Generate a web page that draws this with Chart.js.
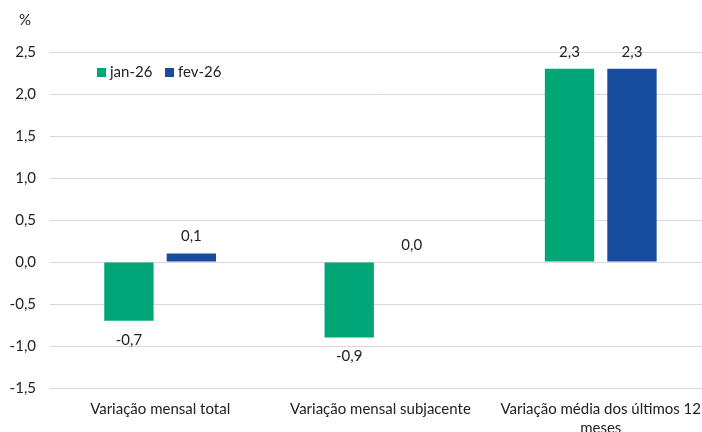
<!DOCTYPE html>
<html>
<head>
<meta charset="utf-8">
<script src="https://cdn.jsdelivr.net/npm/chart.js@4"></script>
<style>
	html, body { margin: 0; padding: 0; background: #fff; overflow: hidden; }
	#wrap { width: 712px; height: 432px; }
</style>
</head>
<body>
<div id="wrap"><canvas id="chart" width="712" height="432"></canvas></div>
<script>
// Categories and series
const categories = ['Variação mensal total', 'Variação mensal subjacente', ['Variação média dos últimos 12', 'meses']];
const seriesNames = ['jan-26', 'fev-26'];
const jan26 = [-0.7, -0.9, 2.3];
const fev26 = [0.1, 0.0, 2.3];
const yTicks = [2.5, 2.0, 1.5, 1.0, 0.5, 0.0, -0.5, -1.0, -1.5];

const green = '#00A676';
const blue = '#174C9E';
const fontFamily = 'Lato, "Open Sans", sans-serif';
const fmt = v => v.toFixed(1).replace('.', ',');

// Value labels above / below each bar
const valueLabels = {
	id: 'valueLabels',
	afterDatasetsDraw(chart) {
		const ctx = chart.ctx;
		ctx.save();
		ctx.font = '15px ' + fontFamily;
		ctx.fillStyle = '#222';
		ctx.textAlign = 'center';
		ctx.textBaseline = 'middle';
		chart.data.datasets.forEach((ds, i) => {
			chart.getDatasetMeta(i).data.forEach((bar, j) => {
				const v = ds.data[j];
				const y = v < 0 ? bar.y + 19 : bar.y - 17;
				ctx.fillText(fmt(v), bar.x, y);
			});
		});
		ctx.restore();
	}
};

// Legend inside the plot + "%" unit label
const extras = {
	id: 'extras',
	afterDraw(chart) {
		const ctx = chart.ctx;
		ctx.save();
		ctx.font = '15px ' + fontFamily;
		ctx.fillStyle = '#222';
		ctx.textBaseline = 'middle';
		ctx.textAlign = 'left';
		ctx.fillText('%', 19, 20);
		const items = [[97, green, seriesNames[0]], [165, blue, seriesNames[1]]];
		items.forEach(([x, c, t]) => {
			ctx.fillStyle = c;
			ctx.fillRect(x, 68, 9, 9);
			ctx.fillStyle = '#222';
			ctx.fillText(t, x + 13, 72.5);
		});
		ctx.restore();
	}
};

new Chart(document.getElementById('chart'), {
	type: 'bar',
	data: {
		labels: categories,
		datasets: [
			{ label: seriesNames[0], data: jan26, backgroundColor: green, categoryPercentage: 0.567, barPercentage: 0.79 },
			{ label: seriesNames[1], data: fev26, backgroundColor: blue, categoryPercentage: 0.567, barPercentage: 0.79 }
		]
	},
	options: {
		responsive: false,
		animation: false,
		layout: { padding: { top: 52, left: 0, right: 0, bottom: 0 } },
		plugins: {
			legend: { display: false },
			tooltip: { enabled: false }
		},
		scales: {
			y: {
				min: -1.5,
				max: 2.5,
				afterFit: s => { s.width = 50; },
				afterBuildTicks: s => { s.ticks = yTicks.map(v => ({ value: v })); },
				border: { display: false },
				grid: { color: '#d9d9d9', lineWidth: 1, drawTicks: false },
				ticks: {
					padding: 14,
					color: '#222',
					font: { family: fontFamily, size: 15 },
					callback: v => fmt(v)
				}
			},
			x: {
				afterFit: s => { s.height = 44; },
				border: { display: false },
				grid: { display: false, drawTicks: false },
				ticks: {
					padding: 11,
					color: '#222',
					maxRotation: 0,
					autoSkip: false,
					font: { family: fontFamily, size: 15, lineHeight: 1.3 }
				}
			}
		}
	},
	plugins: [valueLabels, extras]
});
</script>
</body>
</html>
